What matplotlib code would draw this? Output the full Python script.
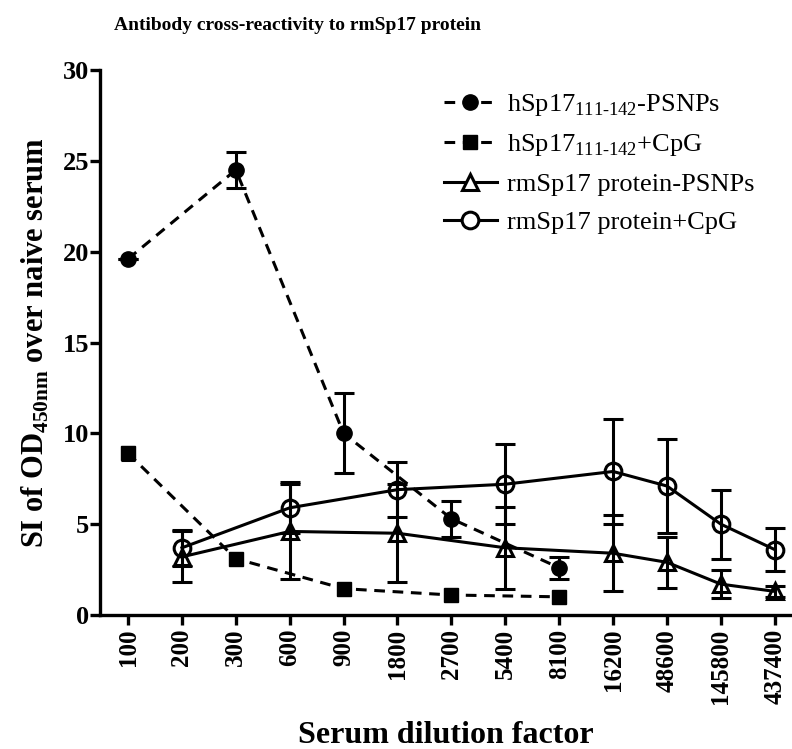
import numpy as np
import matplotlib
matplotlib.use("Agg")
import matplotlib.pyplot as plt
from matplotlib.lines import Line2D

plt.rcParams['font.family'] = ['Liberation Serif', 'DejaVu Serif']
plt.rcParams['mathtext.fontset'] = 'custom'
plt.rcParams['mathtext.rm'] = 'Liberation Serif'
plt.rcParams['mathtext.bf'] = 'Liberation Serif:bold'

# category axis
dilutions = ['100', '200', '300', '600', '900', '1800', '2700', '5400',
             '8100', '16200', '48600', '145800', '437400']

# hSp17(111-142)-PSNPs
hsp_psnp_x = ['100', '300', '900', '2700', '8100']
hsp_psnp_y = [19.6, 24.5, 10.0, 5.3, 2.6]
hsp_psnp_err = [0.0, 1.0, 2.2, 1.0, 0.6]

# hSp17(111-142)+CpG
hsp_cpg_x = ['100', '300', '900', '2700', '8100']
hsp_cpg_y = [8.9, 3.1, 1.45, 1.1, 1.0]
hsp_cpg_err = [0.35, 0.0, 0.0, 0.0, 0.0]

# rmSp17 protein-PSNPs
rm_psnp_x = ['200', '600', '1800', '5400', '16200', '48600', '145800', '437400']
rm_psnp_y = [3.2, 4.6, 4.5, 3.7, 3.4, 2.9, 1.7, 1.3]
rm_psnp_err = [1.4, 2.6, 2.7, 2.25, 2.1, 1.4, 0.75, 0.3]

# rmSp17 protein+CpG
rm_cpg_x = ['200', '600', '1800', '5400', '16200', '48600', '145800', '437400']
rm_cpg_y = [3.7, 5.9, 6.9, 7.2, 7.9, 7.1, 5.0, 3.6]
rm_cpg_err = [1.0, 1.4, 1.5, 2.2, 2.9, 2.6, 1.9, 1.2]

labels = ['hSp17$_{\\mathregular{111\\text{-}142}}$-PSNPs',
          'hSp17$_{\\mathregular{111\\text{-}142}}$+CpG',
          'rmSp17 protein-PSNPs',
          'rmSp17 protein+CpG']


def pos(cats):
    return [dilutions.index(c) for c in cats]


fig = plt.figure(figsize=(7.92, 7.49), dpi=100)
ax = fig.add_axes([100 / 792, 1 - 615 / 749, 1 - 100 / 792, (615 - 70) / 749])

lw = 2.2
dash = (0, (3.5, 2.5))
common = dict(color='black', linewidth=lw, elinewidth=2.2, capthick=2.2, capsize=7)

ax.errorbar(pos(hsp_psnp_x), hsp_psnp_y, yerr=hsp_psnp_err, marker='o', markersize=11,
            linestyle=dash, **common)
sq = dict(common, capsize=5)
ax.errorbar(pos(hsp_cpg_x), hsp_cpg_y, yerr=hsp_cpg_err, marker='s', markersize=10,
            linestyle=dash, **sq)
ax.errorbar(pos(rm_psnp_x), rm_psnp_y, yerr=rm_psnp_err, marker='^', markersize=12,
            markerfacecolor='none', markeredgewidth=2.2, linestyle='-', **common)
ax.errorbar(pos(rm_cpg_x), rm_cpg_y, yerr=rm_cpg_err, marker='o', markersize=12,
            markerfacecolor='none', markeredgewidth=2.2, linestyle='-', **common)

ax.set_xlim(-0.52, 12.32)
ax.set_ylim(0, 30)
ax.set_yticks(range(0, 31, 5))
ax.set_xticks(range(len(dilutions)))
ax.set_xticklabels(dilutions, rotation=90)
for s in ['top', 'right']:
    ax.spines[s].set_visible(False)
for s in ['left', 'bottom']:
    ax.spines[s].set_linewidth(2.4)
ax.tick_params(axis='both', width=2.4, length=7, direction='out')
ax.tick_params(axis='y', pad=1)
ax.tick_params(axis='x', pad=3)
for t in ax.get_yticklabels():
    t.set_fontweight('bold')
    t.set_fontsize(19)
for t in ax.get_xticklabels():
    t.set_fontweight('bold')
    t.set_fontsize(18)

ax.set_ylabel('SI of OD$_{\\mathbf{450nm}}$ over naive serum', fontsize=22,
              fontweight='bold', labelpad=8)
ax.set_xlabel('Serum dilution factor', fontsize=23, fontweight='bold', labelpad=12)
fig.text(0.375, 0.966, 'Antibody cross-reactivity to rmSp17 protein', ha='center',
         va='center', fontsize=14, fontweight='bold')

handles = [
    Line2D([], [], color='black', lw=lw, linestyle=dash, marker='o', markersize=11),
    Line2D([], [], color='black', lw=lw, linestyle=dash, marker='s', markersize=10),
    Line2D([], [], color='black', lw=lw, marker='^', markersize=12,
           markerfacecolor='white', markeredgewidth=2.2),
    Line2D([], [], color='black', lw=lw, marker='o', markersize=12,
           markerfacecolor='white', markeredgewidth=2.2),
]
fig.legend(handles, labels, loc='upper left', bbox_to_anchor=(420 / 792, 1 - 68 / 749),
           frameon=False, fontsize=19, handlelength=2.0, handletextpad=0.4,
           labelspacing=0.55)

fig.savefig('out.png', dpi=100)
